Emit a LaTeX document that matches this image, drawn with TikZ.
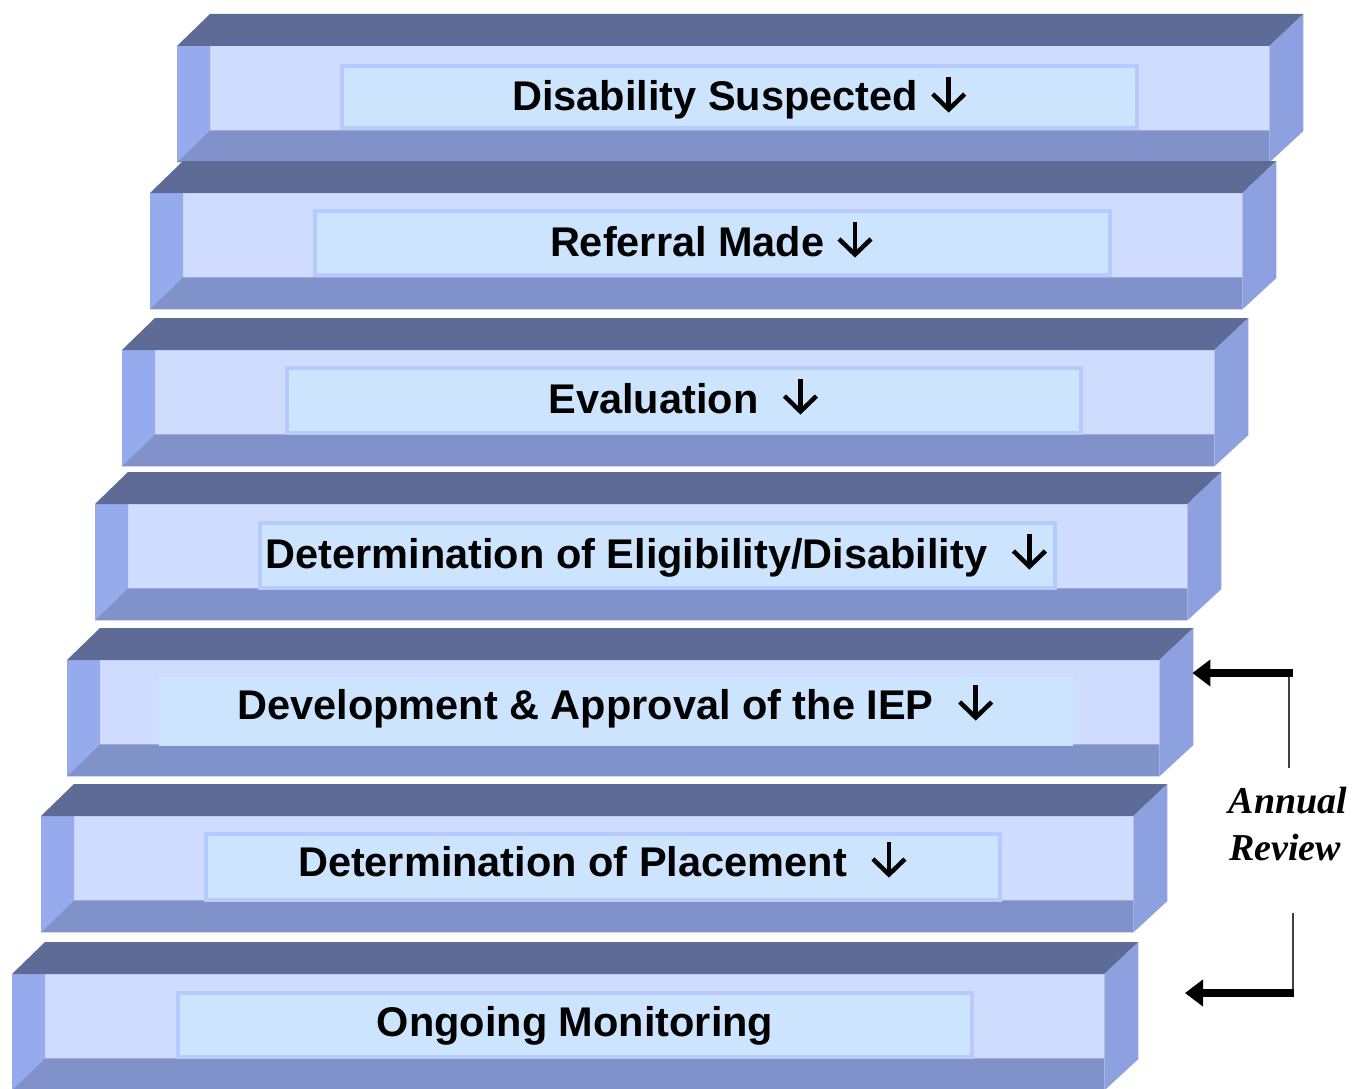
\documentclass[tikz,border=0pt]{standalone}
\usepackage{fontspec}
\setmainfont{Liberation Sans}
\newfontfamily\reviewfont{Liberation Serif}
\usetikzlibrary{arrows.meta}
\definecolor{topc}{RGB}{95,107,151}
\definecolor{leftc}{RGB}{150,170,238}
\definecolor{innerc}{RGB}{208,220,254}
\definecolor{botc}{RGB}{129,145,201}
\definecolor{rightc}{RGB}{141,161,224}
\definecolor{boxc}{RGB}{204,228,254}
\definecolor{boxedge}{RGB}{182,202,254}
\newcommand\dn{\tikz[baseline=0pt,x=1pt,y=1pt]{%
  \path (-19,0) rectangle (19,34);
  \draw[line width=4.5pt,line cap=butt] (0,34) -- (0,3);
  \draw[line width=4.5pt,line join=miter,line cap=butt] (-16,17) -- (0,1.5) -- (16,17);}}
\tikzset{
  frontface/.style={fill=innerc, anchor=north west, inner sep=0pt,
    minimum width=1092pt, minimum height=116pt},
  labelbox/.style={fill=boxc, draw=boxedge, line width=4pt, inner sep=0pt},
  plainbox/.style={fill=boxc, inner sep=0pt},
  steptext/.style={anchor=base, inner sep=0pt,
    font=\fontsize{41.5}{48}\selectfont\bfseries},
  reviewtext/.style={anchor=base, inner sep=0pt,
    font=\fontsize{38}{46}\selectfont\reviewfont\bfseries\itshape},
  thinline/.style={draw=black!75, line width=2.5pt},
  fatarrow/.style={draw=black, line width=8pt,
    -{Triangle[length=18pt,width=26pt]}}
}
\newcommand\stair[3]{%
  \node[frontface] (#3) at (#1,#2+32) {};
  \fill[leftc] (#3.north west) -- ++(33,0) -- ([shift={(33,-32)}]#3.south west) -- (#3.south west) -- cycle;
  \fill[botc] (#3.south west) -- ++(33,-32) -- ([shift={(0,-32)}]#3.south east) -- (#3.south east) -- cycle;
  \fill[topc] (#3.north west) -- ++(33,-32) -- ([shift={(34,-32)}]#3.north east) -- (#3.north east) -- cycle;
  \fill[rightc] (#3.north east) -- ++(34,-32) -- ++(0,117) -- (#3.south east) -- cycle;
}
\begin{document}
\begin{tikzpicture}[x=1pt,y=-1pt]
\useasboundingbox[fill=white] (0,0) rectangle (1354,1089);
\stair{177}{14}{s1}
\stair{150}{161}{s2}
\stair{122}{318}{s3}
\stair{95}{472}{s4}
\stair{67}{628}{s5}
\stair{41}{784}{s6}
\stair{12}{942}{s7}

\node[labelbox, minimum width=795pt, minimum height=62pt] (b1) at (739.5,97) {};
\node[labelbox, minimum width=795pt, minimum height=64pt] (b2) at (712.5,242.5) {};
\node[labelbox, minimum width=794pt, minimum height=65pt] (b3) at (684,400.5) {};
\node[labelbox, minimum width=795pt, minimum height=65pt] (b4) at (657.5,555) {};
\node[plainbox, minimum width=914pt, minimum height=69pt] (b5) at (616,711.5) {};
\node[labelbox, minimum width=794pt, minimum height=66pt] (b6) at (603,866.5) {};
\node[labelbox, minimum width=794pt, minimum height=64pt] (b7) at (575,1024.5) {};

\node[steptext] (t1) at (740,111) {Disability Suspected \dn};
\node[steptext] (t2) at (712,256) {Referral Made \dn};
\node[steptext] (t3) at (684,413) {Evaluation\ \ \dn};
\node[steptext] (t4) at (657,568) {Determination of Eligibility/Disability\ \ \dn};
\node[steptext] (t5) at (616,719) {Development \& Approval of the IEP\ \ \dn};
\node[steptext] (t6) at (603,876) {Determination of Placement\ \ \dn};
\node[steptext] (t7) at (575,1036) {Ongoing Monitoring};

\node[reviewtext] (r1) at (1288,813) {Annual};
\node[reviewtext] (r2) at (1285,860) {Review};

\coordinate (u1) at (1289,768);
\coordinate (u2) at (1289,673);
\coordinate (u3) at ([shift={(33,0)}]s5.east |- u2);
\coordinate (d1) at (1293,913);
\coordinate (d2) at (1293,993);
\coordinate (d3) at (1185,993);
\draw[thinline] (u1) -- (u2);
\draw[fatarrow] ([xshift=4pt]u2) -- (u3);
\draw[thinline] (d1) -- (d2);
\draw[fatarrow] ([xshift=1pt]d2) -- (d3);
\end{tikzpicture}
\end{document}
